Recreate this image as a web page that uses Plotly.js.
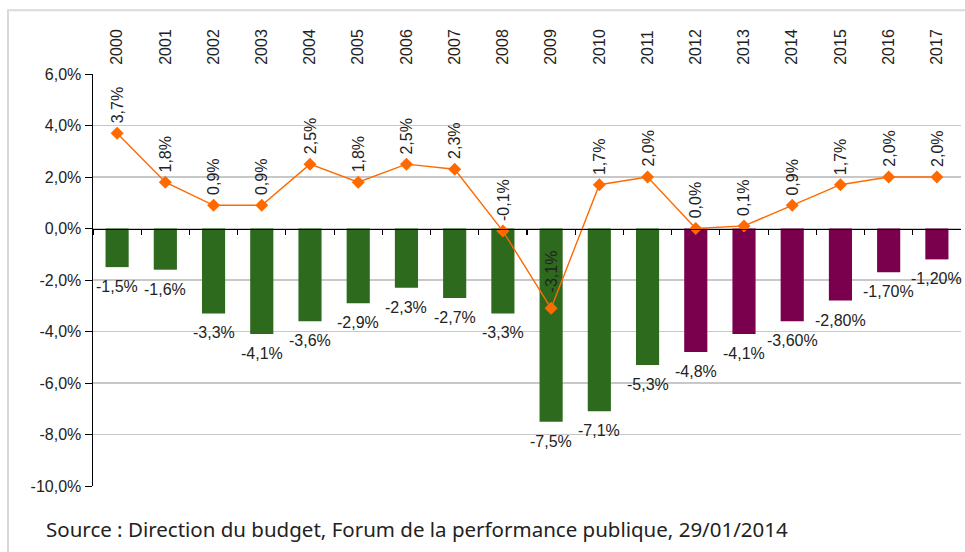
<!DOCTYPE html>
<html>
<head>
<meta charset="utf-8">
<script src="https://cdn.plot.ly/plotly-3.0.1.min.js"></script>
<style>
html,body{margin:0;padding:0;background:#fff;}
#chart{width:965px;height:552px;}
</style>
</head>
<body>
<div id="chart"></div>
<script>
const years = ["2000","2001","2002","2003","2004","2005","2006","2007","2008","2009","2010","2011","2012","2013","2014","2015","2016","2017"];
const deficit = [-1.5,-1.6,-3.3,-4.1,-3.6,-2.9,-2.3,-2.7,-3.3,-7.5,-7.1,-5.3,-4.8,-4.1,-3.6,-2.8,-1.7,-1.2];
const deficitLabels = ["-1,5%","-1,6%","-3,3%","-4,1%","-3,6%","-2,9%","-2,3%","-2,7%","-3,3%","-7,5%","-7,1%","-5,3%","-4,8%","-4,1%","-3,60%","-2,80%","-1,70%","-1,20%"];
const growth = [3.7,1.8,0.9,0.9,2.5,1.8,2.5,2.3,-0.1,-3.1,1.7,2.0,0.0,0.1,0.9,1.7,2.0,2.0];
const growthLabels = ["3,7%","1,8%","0,9%","0,9%","2,5%","1,8%","2,5%","2,3%","-0,1%","-3,1%","1,7%","2,0%","0,0%","0,1%","0,9%","1,7%","2,0%","2,0%"];
const firstForecastYear = "2012";
const yTickVals = [6,4,2,0,-2,-4,-6,-8,-10];
const yTickLabels = ["6,0%","4,0%","2,0%","0,0%","-2,0%","-4,0%","-6,0%","-8,0%","-10,0%"];
const sourceText = "Source : Direction du budget, Forum de la performance publique, 29/01/2014";

const GREEN = "#2D6A1E";
const PURPLE = "#7A004E";
const ORANGE = "#FF6A00";
const FONT = "Arial";

const forecastStart = years.indexOf(firstForecastYear);
const barColors = years.map((y, i) => i < forecastStart ? GREEN : PURPLE);
const idx = years.map((y, i) => i);

const bars = {
  type: "bar",
  x: idx,
  y: deficit,
  marker: {color: barColors, line: {width: 0}},
  width: 0.48,
  hoverinfo: "skip",
  xaxis: "x", yaxis: "y"
};

const line = {
  type: "scatter",
  mode: "lines+markers",
  x: idx,
  y: growth,
  line: {color: ORANGE, width: 1.4},
  marker: {symbol: "diamond", size: 10, color: ORANGE},
  cliponaxis: false,
  hoverinfo: "skip",
  xaxis: "x", yaxis: "y"
};

const annotations = [];
idx.forEach(i => {
  annotations.push({
    x: i, y: growth[i], xref: "x", yref: "y",
    text: growthLabels[i], showarrow: false, textangle: -90,
    yanchor: "bottom", xanchor: "center", yshift: growth[i] < -1 ? 14 : 8,
    font: {family: FONT, size: 16, color: "#222"}
  });
  annotations.push({
    x: i, y: deficit[i], xref: "x", yref: "y",
    text: deficitLabels[i], showarrow: false,
    yanchor: "top", xanchor: "center", yshift: -9,
    font: {family: FONT, size: 16, color: "#222"}
  });
});

annotations.push({
  xref: "paper", yref: "paper", x: -0.0565, y: -0.066,
  xanchor: "left", yanchor: "top", showarrow: false,
  text: sourceText,
  font: {family: "Noto Sans", size: 20.5, color: "#222"}
});

const layout = {
  width: 965, height: 552,
  margin: {l: 93, r: 4, t: 74, b: 66},
  paper_bgcolor: "#fff", plot_bgcolor: "#fff",
  showlegend: false,
  xaxis: {
    type: "linear", side: "top", range: [-0.5, years.length - 0.5],
    tickvals: idx, ticktext: years,
    showline: false, showgrid: false, zeroline: false,
    ticks: "outside", ticklen: 5, tickcolor: "rgba(0,0,0,0)",
    tickangle: -90,
    tickfont: {family: FONT, size: 16, color: "#222"},
    fixedrange: true
  },
  xaxis2: {
    overlaying: "x", anchor: "free", position: 0.625, side: "bottom",
    type: "linear", range: [-0.5, years.length - 0.5],
    showline: true, linecolor: "#000", linewidth: 1.5,
    ticks: "outside", ticklen: 5, tickcolor: "#000", tickwidth: 1.2,
    tickvals: idx.map(i => i - 0.5), showticklabels: false,
    showgrid: false, zeroline: false
  },
  yaxis: {
    range: [-10, 6],
    tickvals: yTickVals, ticktext: yTickLabels,
    showline: true, linecolor: "#000", linewidth: 1.5,
    ticks: "outside", ticklen: 7, tickcolor: "#000",
    showgrid: true, gridcolor: "#c8c8c8", gridwidth: 1.5,
    zeroline: false,
    tickfont: {family: FONT, size: 16, color: "#222"},
    fixedrange: true
  },
  annotations: annotations,
  shapes: [{
    type: "rect", xref: "paper", yref: "paper",
    x0: -0.0979, x1: 1.2, y0: -0.5, y1: 1.155,
    line: {color: "#d9d9d9", width: 2}, fillcolor: "rgba(0,0,0,0)", layer: "below"
  }]
};

const xa2Trace = {type: "scatter", x: [0], y: [0], xaxis: "x2", yaxis: "y", mode: "markers", marker: {opacity: 0}, hoverinfo: "skip"};

Plotly.newPlot("chart", [bars, line, xa2Trace], layout, {displayModeBar: false, staticPlot: true});
</script>
</body>
</html>
